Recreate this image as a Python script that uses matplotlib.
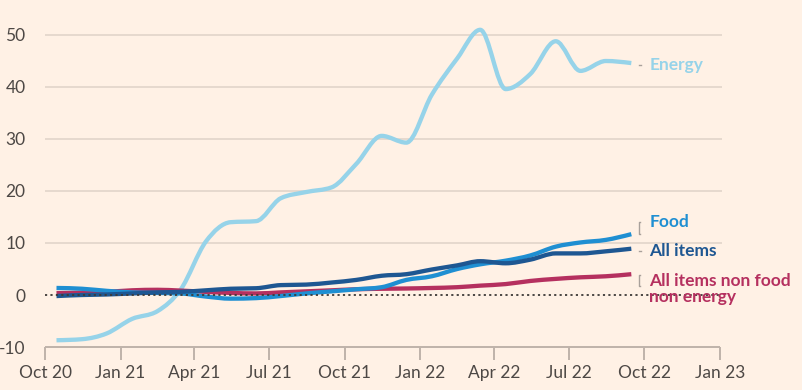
import matplotlib
matplotlib.use("Agg")
import matplotlib.pyplot as plt
import matplotlib.dates as mdates
from matplotlib.path import Path
from matplotlib.patches import PathPatch
import numpy as np
import datetime as dt

# ---------------- data ----------------
months = [dt.date(2020 + (9 + i) // 12, (9 + i) % 12 + 1, 15) for i in range(24)]  # Oct 2020 .. Sep 2022

energy = [-8.7, -8.5, -7.4, -4.6, -3.1, 1.0, 10.3, 14.0, 14.2, 18.6, 19.8, 20.7,
          25.2, 30.6, 29.3, 38.5, 45.5, 51.0, 39.6, 42.5, 48.8, 43.1, 45.0, 44.6]
food = [1.35, 1.2, 0.8, 0.5, 0.4, 0.3, -0.3, -0.7, -0.6, -0.2, 0.3, 0.7,
        1.1, 1.5, 2.9, 3.6, 5.0, 5.9, 6.6, 7.6, 9.3, 10.1, 10.6, 11.7]
all_items = [-0.2, 0.0, 0.1, 0.3, 0.5, 0.6, 0.9, 1.2, 1.3, 1.9, 2.0, 2.4,
             2.9, 3.7, 4.0, 4.9, 5.7, 6.5, 6.1, 6.8, 8.0, 8.0, 8.4, 8.9]
core = [0.35, 0.45, 0.6, 0.9, 1.0, 0.85, 0.6, 0.4, 0.3, 0.5, 0.7, 0.9,
        1.1, 1.2, 1.25, 1.35, 1.5, 1.8, 2.1, 2.7, 3.1, 3.4, 3.6, 4.0]

series_names = ["Energy", "Food", "All items", "All items non food\nnon energy"]
y_ticks = [-10, 0, 10, 20, 30, 40, 50]
x_tick_dates = [dt.date(2020, 10, 1), dt.date(2021, 1, 1), dt.date(2021, 4, 1), dt.date(2021, 7, 1),
                dt.date(2021, 10, 1), dt.date(2022, 1, 1), dt.date(2022, 4, 1), dt.date(2022, 7, 1),
                dt.date(2022, 10, 1), dt.date(2023, 1, 1)]
x_tick_labels = ["Oct 20", "Jan 21", "Apr 21", "Jul 21", "Oct 21", "Jan 22", "Apr 22", "Jul 22", "Oct 22", "Jan 23"]

# ---------------- style ----------------
BG = "#FFF1E5"
C_ENERGY = "#96D3E9"
C_FOOD = "#1F8FD2"
C_ALL = "#1E5792"
C_CORE = "#B5305F"
GRID = "#E6D9CE"
TXT = "#4D4845"

plt.rcParams["font.family"] = ["Lato", "DejaVu Sans"]

fig = plt.figure(figsize=(8.02, 3.90), dpi=100, facecolor=BG)
ax = fig.add_axes([45 / 802, 1 - 347 / 390, (720 - 45) / 802, (347 - 35) / 390])
ax.set_facecolor(BG)

x0 = mdates.date2num(dt.date(2020, 10, 1))
x1 = mdates.date2num(dt.date(2023, 1, 1))
ax.set_xlim(x0, x1)
ax.set_ylim(-10, 50)

# gridlines
for v in y_ticks[2:]:
    ax.plot([x0, x1 + 3], [v, v], color=GRID, lw=1.4, zorder=1, clip_on=False, solid_capstyle="butt")
ax.plot([x0, x1], [-10, -10], color="#BFB3AA", lw=1.4, zorder=1, clip_on=False, solid_capstyle="butt")


def monotone_path(xs, ys):
    xs = np.asarray(xs, float)
    ys = np.asarray(ys, float)
    n = len(xs)
    h = np.diff(xs)
    s = np.diff(ys) / h
    t = np.zeros(n)
    for i in range(1, n - 1):
        if s[i - 1] * s[i] <= 0:
            t[i] = 0
        else:
            p = (s[i - 1] * h[i] + s[i] * h[i - 1]) / (h[i - 1] + h[i])
            t[i] = (np.sign(s[i - 1]) + np.sign(s[i])) * min(abs(s[i - 1]), abs(s[i]), 0.5 * abs(p))
    t[0] = (3 * s[0] - t[1]) / 2
    t[-1] = (3 * s[-1] - t[-2]) / 2
    verts = [(xs[0], ys[0])]
    codes = [Path.MOVETO]
    for i in range(n - 1):
        dx = h[i] / 3
        verts += [(xs[i] + dx, ys[i] + dx * t[i]), (xs[i + 1] - dx, ys[i + 1] - dx * t[i + 1]),
                  (xs[i + 1], ys[i + 1])]
        codes += [Path.CURVE4] * 3
    return Path(verts, codes)


xd = mdates.date2num(months)
for vals, col, z in [(core, C_CORE, 3), (food, C_FOOD, 4), (all_items, C_ALL, 5), (energy, C_ENERGY, 2)]:
    p = PathPatch(monotone_path(xd, vals), facecolor="none", edgecolor=col, lw=3.1,
                  capstyle="butt", joinstyle="round", zorder=z, clip_on=False)
    ax.add_patch(p)

# zero line
ax.plot([x0, x1], [0, 0], color="#3D3A38", lw=1.3, ls=(0, (1.2, 1.8)), zorder=6, clip_on=False)

# ticks
ax.set_xticks(mdates.date2num(x_tick_dates))
ax.set_xticklabels(x_tick_labels)
ax.set_yticks(y_ticks)
ax.set_yticklabels([str(v) for v in y_ticks])
ax.tick_params(axis="x", length=9, width=1.4, color="#BFB3AA", labelsize=12.5, labelcolor=TXT, pad=4)
ax.tick_params(axis="y", length=0, labelsize=12.5, labelcolor=TXT, pad=14)
for sp in ax.spines.values():
    sp.set_visible(False)

# labels at line ends
xe = xd[-1]
xl = mdates.date2num(dt.date(2022, 10, 7))
lx = xe + 9


def leader(y_end, y_lab):
    if abs(y_end - y_lab) < 0.6:
        ax.plot([lx, lx + 3], [y_lab, y_lab], color="#A9A19B", lw=1, clip_on=False, zorder=7)
    else:
        ax.plot([lx + 2, lx, lx, lx + 2], [y_end, y_end, y_lab, y_lab], color="#A9A19B", lw=1,
                clip_on=False, zorder=7)


label_y = [44.2, 14.0, 8.5, 1.2]
ends = [energy[-1], food[-1], all_items[-1], core[-1]]
cols = [C_ENERGY, C_FOOD, C_ALL, C_CORE]
for name, ly, ye, c in zip(series_names, label_y, ends, cols):
    if "\n" in name:
        ax.plot([lx + 2, lx, lx, lx + 2], [ye - 0.2, ye - 0.2, ye - 2.2, ye - 2.2], color="#A9A19B",
                lw=1, clip_on=False, zorder=7)
    else:
        leader(ye, ly)
    ax.text(xl, ly, name, color=c, fontsize=12.5, fontweight="bold", ha="left", va="center",
            linespacing=1.0, zorder=8)

fig.savefig("out.png", dpi=100, facecolor=BG)
